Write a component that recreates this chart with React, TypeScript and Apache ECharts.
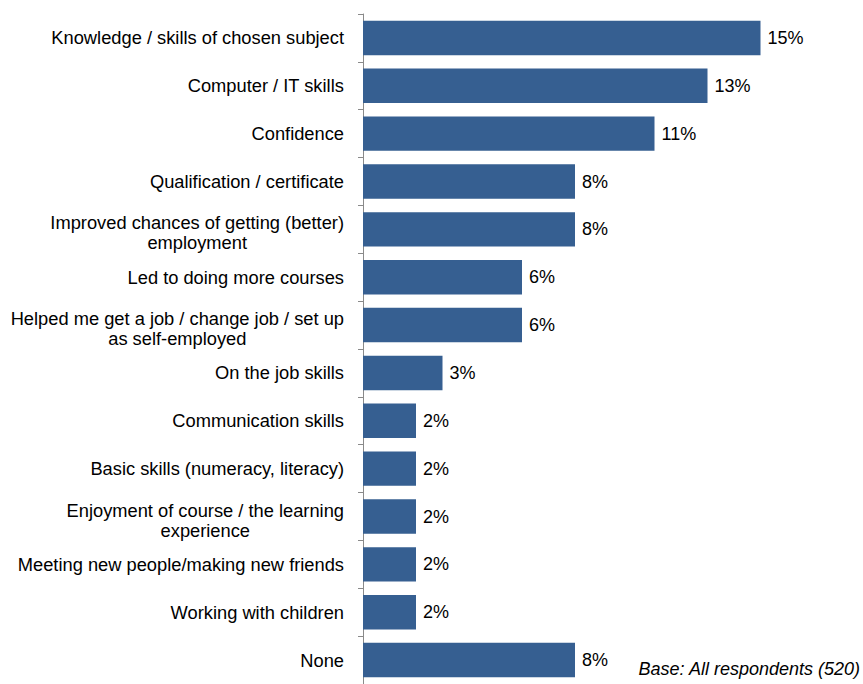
import React, { useEffect, useRef } from "react";
import * as echarts from "echarts";

const categories: string[] = [
  "Knowledge / skills of chosen subject",
  "Computer / IT skills",
  "Confidence",
  "Qualification / certificate",
  "Improved chances of getting (better)\nemployment",
  "Led to doing more courses",
  "Helped me get a job / change job / set up\nas self-employed",
  "On the job skills",
  "Communication skills",
  "Basic skills (numeracy, literacy)",
  "Enjoyment of course / the learning\nexperience",
  "Meeting new people/making new friends",
  "Working with children",
  "None",
];

const values: number[] = [15, 13, 11, 8, 8, 6, 6, 3, 2, 2, 2, 2, 2, 8];

const footnote = "Base: All respondents (520)";

export default function App() {
  const ref = useRef<HTMLDivElement>(null);

  useEffect(() => {
    if (!ref.current) return;
    const chart = echarts.init(ref.current, undefined, { renderer: "svg" });
    const font = "'Liberation Sans', Arial, sans-serif";
    const fs = 18.3;
    const yData = categories.map((c) =>
      c.includes("\n")
        ? { value: c, textStyle: { padding: [7, 0, 0, 0] } }
        : c
    );
    chart.setOption({
      animation: false,
      backgroundColor: "#ffffff",
      grid: { left: 363, top: 14, width: 477, height: 674, containLabel: false },
      xAxis: {
        type: "value",
        min: 0,
        max: 18,
        show: false,
      },
      yAxis: {
        type: "category",
        inverse: true,
        data: yData,
        axisLine: { show: true, lineStyle: { color: "#8a8a8a", width: 1 } },
        axisTick: { show: true, length: 5, inside: false, lineStyle: { color: "#8a8a8a" } },
        axisLabel: {
          margin: 19,
          color: "#000000",
          fontFamily: font,
          fontSize: fs,
          align: "right",
          formatter: (v: string) =>
            v
              .split("\n")
              .map((l) => `{c|${l}}`)
              .join("\n"),
          rich: {
            c: {
              align: "center",
              fontFamily: font,
              fontSize: fs,
              lineHeight: 20,
              color: "#000000",
            },
          },
        },
        splitLine: { show: false },
      },
      series: [
        {
          type: "bar",
          data: values,
          barCategoryGap: "28%",
          itemStyle: { color: "#365F91" },
          label: {
            show: true,
            position: "right",
            distance: 7,
            formatter: (p: any) => `${p.value}%`,
            color: "#000000",
            fontFamily: font,
            fontSize: 18,
          },
        },
      ],
      graphic: [
        {
          type: "text",
          x: 860,
          y: 669,
          style: {
            text: footnote,
            textAlign: "right",
            textVerticalAlign: "middle",
            fontFamily: font,
            fontSize: 18,
            fontStyle: "italic",
            fill: "#000000",
          },
        },
      ],
    });
    return () => chart.dispose();
  }, []);

  return (
    <div
      ref={ref}
      style={{ position: "absolute", left: 0, top: 0, width: 863, height: 684 }}
    />
  );
}
